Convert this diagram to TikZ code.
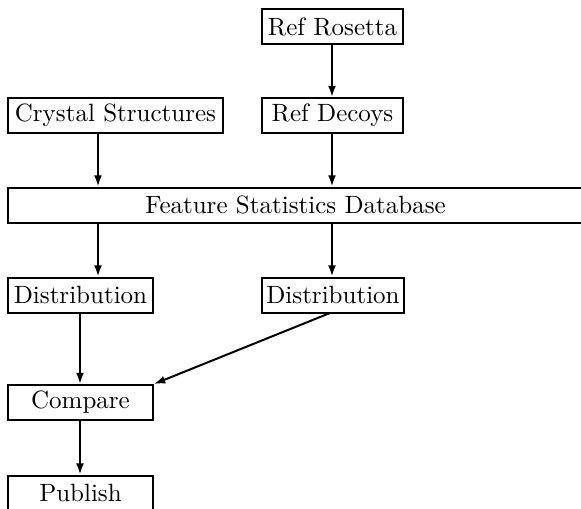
\documentclass[tikz,border=0pt]{standalone}
\usetikzlibrary{arrows.meta}
\begin{document}
\begin{tikzpicture}[x=0.4pt,y=-0.4pt,
  box/.style={draw,line width=0.8pt,rectangle,inner sep=0pt,minimum height=35*0.4pt,anchor=center},
  conn/.style={line width=0.8pt,-{Latex[length=4.5pt,width=3.2pt]}}]
\useasboundingbox (0,0) rectangle (581,508);
\clip (0,0) rectangle (581,508);
\node[box,minimum width=141*0.4pt] (rosetta) at (332.5,26.5) {Ref Rosetta};
\node[box,minimum width=215*0.4pt] (crystal) at (115.5,115.5) {Crystal Structures};
\node[box,minimum width=141*0.4pt] (decoys) at (332.5,115.5) {Ref Decoys};
\node[box,minimum width=575*0.4pt] (feature) at (295.5,205) {Feature Statistics Database};
\node[box,minimum width=145*0.4pt] (distl) at (80.5,295) {Distribution};
\node[box,minimum width=142*0.4pt] (distr) at (333,295) {Distribution};
\node[box,minimum width=145*0.4pt] (compare) at (80.5,402.5) {Compare};
\node[box,minimum width=145*0.4pt] (publish) at (80.5,493) {Publish};
\coordinate (xa) at (98,0);
\coordinate (xb) at (332,0);
\coordinate (xc) at (80,0);
\coordinate (dstart) at (330,313);
\draw[conn] (rosetta.south -| xb) -- (decoys.north -| xb);
\draw[conn] (crystal.south -| xa) -- (feature.north -| xa);
\draw[conn] (decoys.south -| xb) -- (feature.north -| xb);
\draw[conn] (feature.south -| xa) -- (distl.north -| xa);
\draw[conn] (feature.south -| xb) -- (distr.north -| xb);
\draw[conn] (distl.south -| xc) -- (compare.north -| xc);
\draw[conn] (dstart) -- (compare.north east);
\draw[conn] (compare.south -| xc) -- (publish.north -| xc);
\end{tikzpicture}
\end{document}
